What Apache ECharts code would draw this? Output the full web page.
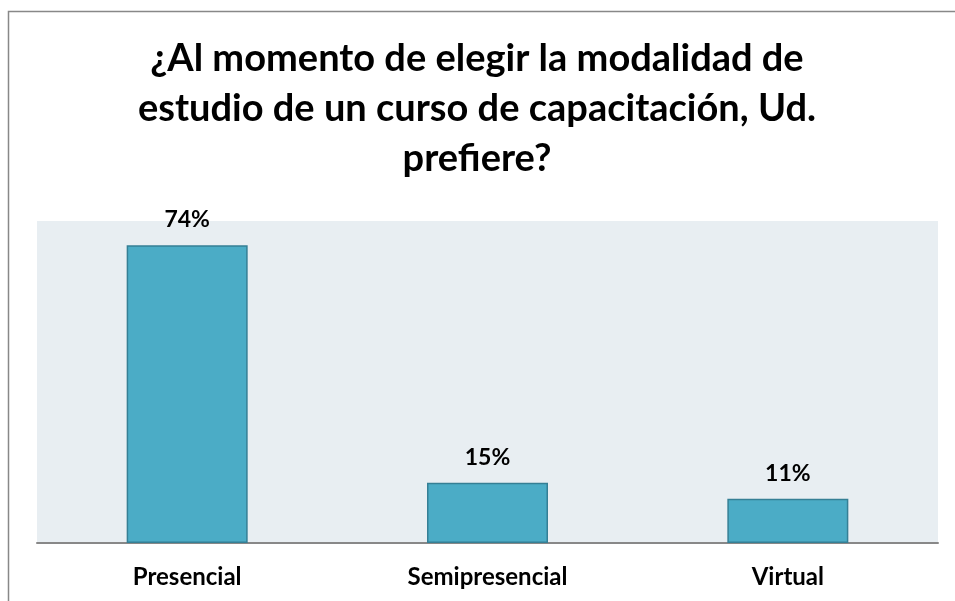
<!DOCTYPE html>
<html>
<head>
<meta charset="utf-8">
<script src="https://cdn.jsdelivr.net/npm/echarts@6/dist/echarts.min.js"></script>
<style>
  html, body { margin: 0; padding: 0; background: #fff; }
  #chart { width: 955px; height: 601px; }
</style>
</head>
<body>
<div id="chart"></div>
<script>
// categorias y porcentajes
var categorias = ['Presencial', 'Semipresencial', 'Virtual'];
var porcentajes = [74, 15, 11];

var titulo = '¿Al momento de elegir la modalidad de\nestudio de un curso de capacitación, Ud.\nprefiere?';

var option = {
  animation: false,
  textStyle: { fontFamily: 'Lato' },
  title: {
    text: titulo,
    left: 472,
    textAlign: 'center',
    top: 29,
    textStyle: {
      fontFamily: 'Lato',
      fontWeight: 'bold',
      fontSize: 38,
      lineHeight: 50,
      color: '#000'
    }
  },
  graphic: [{
    type: 'rect',
    shape: { x: 8.5, y: 11.5, width: 1000, height: 1000 },
    style: { fill: 'none', stroke: '#888', lineWidth: 1.5 },
    silent: true
  }],
  grid: {
    left: 37,
    right: 17,
    top: 221,
    bottom: 58,
    show: true,
    backgroundColor: '#e8eef2',
    borderWidth: 0
  },
  xAxis: {
    type: 'category',
    data: categorias,
    axisLine: { lineStyle: { color: '#888', width: 2 } },
    axisTick: { show: false },
    axisLabel: {
      margin: 22,
      fontFamily: 'Lato',
      fontWeight: 'bold',
      fontSize: 24,
      color: '#000'
    }
  },
  yAxis: {
    type: 'value',
    min: 0,
    max: 80,
    show: false,
    splitLine: { show: false }
  },
  series: [{
    type: 'bar',
    data: porcentajes,
    barWidth: 121,
    itemStyle: {
      color: '#4bacc6',
      borderColor: '#357f95',
      borderWidth: 1.5
    },
    label: {
      show: true,
      position: 'top',
      distance: 14,
      formatter: '{c}%',
      fontFamily: 'Lato',
      fontWeight: 'bold',
      fontSize: 23,
      color: '#000'
    }
  }]
};

var myChart = echarts.init(document.getElementById('chart'));
myChart.setOption(option);
</script>
</body>
</html>
